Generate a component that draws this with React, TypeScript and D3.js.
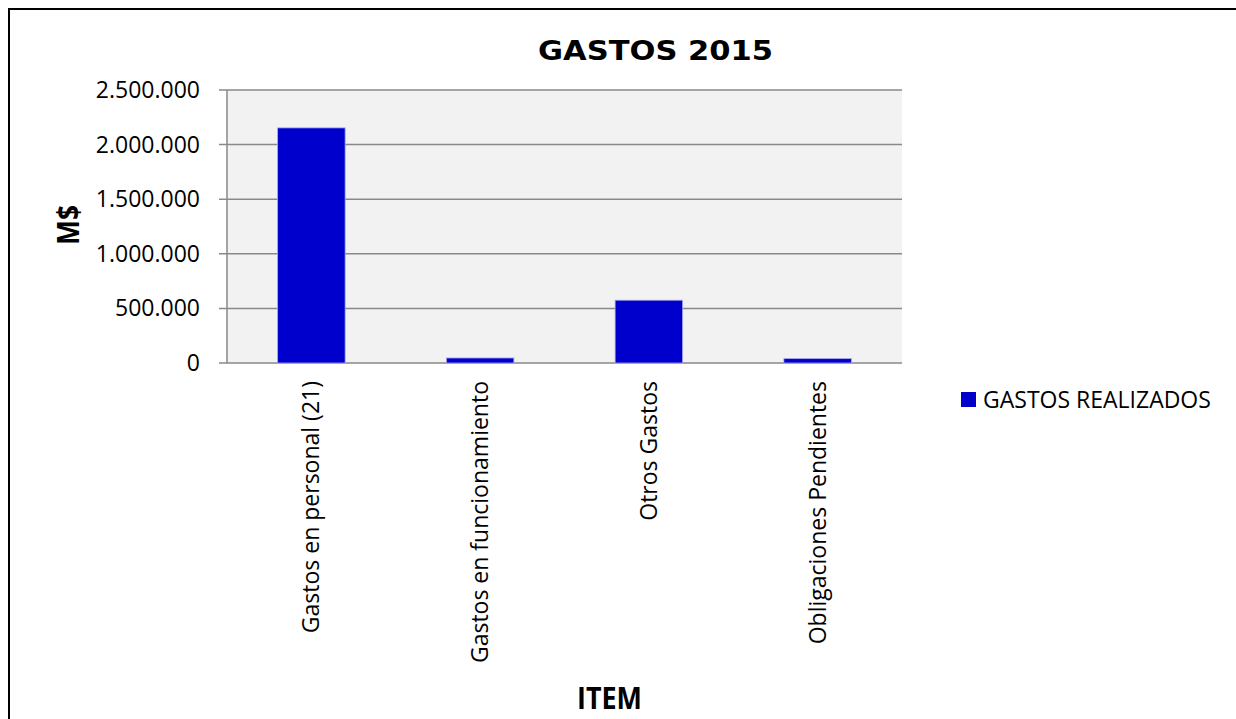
import React, { useEffect, useRef } from "react";
import * as d3 from "d3";

const categories = [
  "Gastos en personal (21)",
  "Gastos en funcionamiento",
  "Otros Gastos",
  "Obligaciones Pendientes",
];
const gastosRealizados = [2153000, 46000, 575000, 40000];
const yTicks = [0, 500000, 1000000, 1500000, 2000000, 2500000];
const seriesName = "GASTOS REALIZADOS";
const chartTitle = "GASTOS 2015";
const yTitle = "M$";
const xTitle = "ITEM";

const W = 1236;
const H = 719;
const FONT = "'Open Sans', sans-serif";

export default function App() {
  const ref = useRef<SVGSVGElement>(null);

  useEffect(() => {
    const svg = d3.select(ref.current);
    svg.selectAll("*").remove();

    const plot = { left: 227, right: 902, top: 90, bottom: 363 };

    svg.append("rect").attr("x", 0).attr("y", 0).attr("width", W).attr("height", H).attr("fill", "#fff");
    svg.append("path")
      .attr("d", `M9,${H + 5} L9,9 L${W + 5},9`)
      .attr("fill", "none").attr("stroke", "#000").attr("stroke-width", 2);

    const x = d3.scaleBand<string>().domain(categories).range([plot.left, plot.right]).padding(0);
    const y = d3.scaleLinear().domain([0, 2500000]).range([plot.bottom, plot.top]);

    svg.append("rect")
      .attr("x", plot.left).attr("y", plot.top)
      .attr("width", plot.right - plot.left).attr("height", plot.bottom - plot.top)
      .attr("fill", "#f2f2f2");

    const fmt = (v: number) => d3.format(",")(v).replace(/,/g, ".");

    svg.append("g").selectAll("line").data(yTicks).join("line")
      .attr("x1", 219).attr("x2", plot.right)
      .attr("y1", (d) => y(d)).attr("y2", (d) => y(d))
      .attr("stroke", "#898989").attr("stroke-width", 1.5);

    svg.append("line")
      .attr("x1", plot.left).attr("x2", plot.left)
      .attr("y1", plot.top).attr("y2", plot.bottom)
      .attr("stroke", "#898989").attr("stroke-width", 1.5);

    svg.append("g").selectAll("text").data(yTicks).join("text")
      .attr("x", 200).attr("y", (d) => y(d))
      .attr("dy", "0.35em")
      .attr("text-anchor", "end")
      .attr("font-family", FONT).attr("font-size", 23).attr("fill", "#000")
      .text((d) => fmt(d));

    const bw = x.bandwidth() * 0.4;
    svg.append("g").selectAll("rect").data(gastosRealizados).join("rect")
      .attr("x", (_d, i) => (x(categories[i]) as number) + x.bandwidth() / 2 - bw / 2)
      .attr("y", (d) => y(d))
      .attr("width", bw)
      .attr("height", (d) => y(0) - y(d))
      .attr("fill", "#0000cc")
      .attr("stroke", "#a8a8ee").attr("stroke-width", 0.8);

    svg.append("g").selectAll("text").data(categories).join("text")
      .attr("transform", (d) => `translate(${(x(d) as number) + x.bandwidth() / 2},381) rotate(-90)`)
      .attr("text-anchor", "end")
      .attr("dy", "0.35em")
      .attr("font-family", FONT).attr("font-size", 23).attr("fill", "#000")
      .text((d) => d);

    svg.append("text")
      .attr("x", 655.5).attr("y", 59.5)
      .attr("text-anchor", "middle")
      .attr("font-family", "'DejaVu Sans', sans-serif").attr("font-weight", "bold").attr("font-size", 26)
      .attr("textLength", 235).attr("lengthAdjust", "spacingAndGlyphs")
      .text(chartTitle);

    svg.append("text")
      .attr("transform", `translate(78.5,225) rotate(-90)`)
      .attr("text-anchor", "middle")
      .attr("font-family", FONT).attr("font-weight", "bold").attr("font-size", 30)
      .attr("textLength", 40).attr("lengthAdjust", "spacingAndGlyphs")
      .text(yTitle);

    svg.append("text")
      .attr("x", 609.5).attr("y", 709.3)
      .attr("text-anchor", "middle")
      .attr("font-family", FONT).attr("font-weight", "bold").attr("font-size", 30)
      .attr("textLength", 65).attr("lengthAdjust", "spacingAndGlyphs")
      .text(xTitle);

    svg.append("rect")
      .attr("x", 961).attr("y", 392).attr("width", 15).attr("height", 15)
      .attr("fill", "#0000cc");
    svg.append("text")
      .attr("x", 983).attr("y", 408)
      .attr("font-family", FONT).attr("font-size", 23)
      .text(seriesName);
  }, []);

  return (
    <svg
      ref={ref}
      width={W}
      height={H}
      style={{ position: "absolute", left: 0, top: 0 }}
    />
  );
}
